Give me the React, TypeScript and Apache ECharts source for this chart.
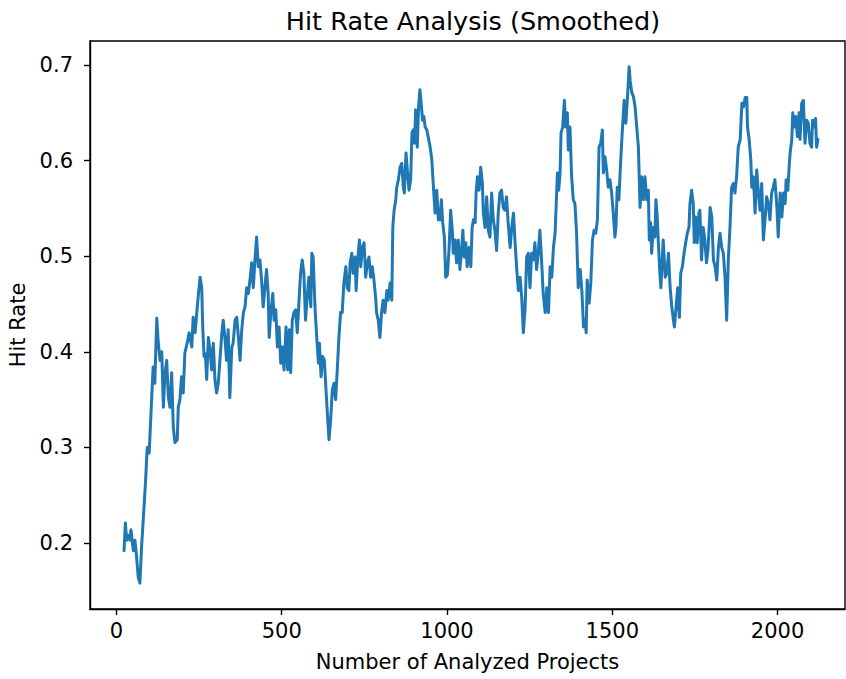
import React, { useEffect, useRef } from "react";
import * as echarts from "echarts";

const chartTitle = "Hit Rate Analysis (Smoothed)";
const xAxisTitle = "Number of Analyzed Projects";
const yAxisTitle = "Hit Rate";
const xTicks = [0, 500, 1000, 1500, 2000];
const yTicks = [0.2, 0.3, 0.4, 0.5, 0.6, 0.7];

// [number of analyzed projects, smoothed hit rate]
const smoothedHitRate: [number, number][] = [
  [23,.192],[27,.221],[31,.203],[36,.208],[41,.203],[44,.214],[51,.192],[56,.203],[61,.185],[66,.164],[71,.158],[76,.196],[81,.224],[88,.264],[93,.300],[99,.294],[106,.347],[111,.384],[116,.367],[122,.435],[126,.412],[132,.391],[137,.400],[142,.342],[147,.378],[152,.391],[157,.353],[162,.342],[167,.378],[172,.321],[177,.305],[184,.308],[187,.342],[192,.350],[197,.374],[202,.357],[207,.399],[214,.409],[220,.420],[228,.405],[232,.436],[238,.420],[243,.441],[248,.460],[253,.478],[258,.467],[261,.426],[265,.395],[269,.398],[273,.371],[278,.415],[283,.402],[288,.381],[293,.409],[298,.371],[303,.357],[308,.367],[313,.391],[319,.420],[323,.433],[328,.415],[333,.391],[338,.423],[343,.352],[349,.405],[353,.409],[359,.433],[364,.436],[369,.415],[374,.391],[379,.423],[384,.441],[389,.447],[394,.467],[399,.461],[404,.475],[409,.493],[414,.467],[419,.496],[424,.520],[429,.489],[434,.496],[439,.475],[444,.447],[449,.467],[454,.486],[459,.461],[462,.415],[467,.441],[473,.461],[477,.433],[482,.444],[487,.405],[492,.426],[497,.388],[502,.405],[507,.381],[513,.426],[518,.381],[523,.423],[527,.378],[532,.433],[537,.441],[542,.444],[547,.420],[552,.451],[557,.482],[562,.496],[567,.482],[572,.433],[577,.457],[582,.478],[588,.447],[591,.503],[595,.499],[601,.444],[606,.415],[611,.388],[614,.409],[619,.374],[624,.395],[629,.391],[634,.360],[638,.336],[643,.308],[648,.329],[653,.360],[658,.367],[663,.350],[668,.381],[673,.415],[678,.441],[683,.441],[688,.472],[694,.489],[698,.467],[703,.464],[707,.493],[712,.503],[716,.482],[722,.499],[725,.464],[730,.496],[735,.517],[739,.489],[744,.509],[749,.514],[754,.478],[759,.493],[764,.499],[769,.478],[774,.489],[779,.475],[784,.457],[787,.441],[792,.433],[797,.415],[802,.441],[807,.454],[812,.441],[818,.464],[822,.454],[828,.472],[833,.454],[836,.530],[840,.548],[845,.559],[848,.572],[853,.580],[858,.593],[863,.597],[868,.572],[871,.566],[876,.608],[880,.590],[885,.569],[890,.580],[894,.629],[898,.632],[902,.618],[905,.653],[910,.614],[914,.656],[918,.674],[922,.660],[926,.642],[930,.646],[934,.635],[939,.632],[943,.625],[949,.614],[954,.601],[959,.572],[964,.545],[969,.569],[974,.538],[979,.538],[983,.559],[987,.535],[992,.520],[996,.478],[1001,.480],[1006,.506],[1011,.548],[1016,.527],[1019,.503],[1024,.517],[1029,.493],[1034,.517],[1039,.486],[1044,.506],[1048,.527],[1052,.499],[1057,.514],[1061,.489],[1067,.509],[1072,.489],[1076,.530],[1080,.538],[1085,.535],[1088,.566],[1092,.583],[1097,.569],[1102,.593],[1107,.576],[1110,.545],[1115,.530],[1120,.562],[1125,.527],[1130,.520],[1135,.566],[1140,.538],[1145,.527],[1150,.506],[1155,.545],[1160,.566],[1165,.569],[1170,.551],[1175,.548],[1180,.562],[1185,.535],[1191,.509],[1196,.530],[1201,.545],[1206,.514],[1211,.486],[1216,.464],[1221,.478],[1226,.457],[1231,.420],[1236,.444],[1241,.499],[1246,.503],[1251,.467],[1256,.503],[1261,.496],[1266,.514],[1271,.486],[1276,.503],[1281,.527],[1286,.496],[1291,.461],[1297,.441],[1302,.467],[1307,.441],[1312,.489],[1317,.478],[1322,.509],[1327,.524],[1330,.551],[1334,.587],[1338,.569],[1342,.587],[1345,.629],[1350,.635],[1355,.663],[1359,.635],[1364,.650],[1367,.611],[1372,.635],[1377,.583],[1382,.559],[1387,.555],[1392,.524],[1397,.467],[1403,.486],[1408,.464],[1413,.426],[1418,.433],[1421,.420],[1424,.475],[1430,.451],[1435,.472],[1440,.517],[1445,.527],[1450,.524],[1455,.538],[1460,.614],[1465,.618],[1470,.632],[1473,.587],[1478,.604],[1483,.590],[1488,.572],[1493,.580],[1498,.566],[1503,.545],[1508,.520],[1511,.530],[1515,.572],[1520,.559],[1525,.597],[1530,.629],[1536,.663],[1541,.639],[1546,.666],[1551,.698],[1554,.684],[1559,.671],[1564,.667],[1569,.656],[1574,.635],[1579,.614],[1584,.551],[1589,.583],[1594,.559],[1599,.583],[1604,.559],[1609,.569],[1612,.517],[1616,.535],[1619,.503],[1624,.530],[1629,.520],[1632,.559],[1636,.541],[1639,.517],[1644,.482],[1647,.467],[1651,.496],[1654,.517],[1660,.478],[1665,.482],[1670,.503],[1675,.467],[1680,.447],[1685,.433],[1688,.426],[1693,.447],[1698,.467],[1703,.436],[1707,.482],[1712,.489],[1717,.503],[1722,.514],[1727,.524],[1732,.530],[1735,.555],[1740,.569],[1745,.555],[1748,.514],[1752,.541],[1757,.514],[1762,.545],[1765,.548],[1770,.496],[1775,.530],[1780,.517],[1785,.493],[1790,.509],[1796,.551],[1801,.541],[1806,.496],[1811,.489],[1816,.475],[1821,.509],[1826,.524],[1831,.509],[1836,.503],[1841,.478],[1846,.433],[1851,.496],[1856,.530],[1861,.572],[1866,.576],[1871,.566],[1876,.583],[1881,.614],[1887,.622],[1892,.660],[1897,.656],[1902,.666],[1907,.666],[1909,.635],[1914,.622],[1919,.601],[1922,.572],[1927,.583],[1932,.545],[1937,.590],[1942,.566],[1947,.548],[1952,.576],[1957,.517],[1962,.538],[1967,.562],[1972,.555],[1977,.538],[1982,.566],[1987,.572],[1992,.580],[1998,.551],[2002,.520],[2008,.566],[2013,.541],[2018,.566],[2023,.555],[2026,.580],[2031,.569],[2035,.593],[2038,.608],[2043,.622],[2046,.650],[2050,.635],[2055,.646],[2060,.625],[2065,.650],[2068,.622],[2073,.660],[2078,.663],[2083,.618],[2088,.642],[2093,.639],[2098,.618],[2103,.614],[2106,.642],[2111,.635],[2115,.644],[2118,.614],[2122,.622]
];

const FONT = "DejaVu Sans";

export default function App() {
  const ref = useRef<HTMLDivElement>(null);
  useEffect(() => {
    document.body.style.margin = "0";
    if (!ref.current) return;
    const chart = echarts.init(ref.current, undefined, { renderer: "svg" });
    const axisLine = { show: true, onZero: false, lineStyle: { color: "#000", width: 1.4 } };
    chart.setOption({
      animation: false,
      backgroundColor: "#fff",
      title: {
        text: chartTitle,
        left: 468,
        top: 3,
        textAlign: "center",
        textStyle: { fontFamily: FONT, fontSize: 25.5, fontWeight: "normal", color: "#000" },
      },
      grid: {
        left: 90, right: 1, top: 41, bottom: 70,
        show: true, borderColor: "#000", borderWidth: 1.4,
        containLabel: false, outerBoundsMode: "none",
      },
      xAxis: {
        type: "value",
        min: -80,
        max: 2204,
        name: xAxisTitle,
        nameLocation: "middle",
        nameGap: 42,
        nameTextStyle: { fontFamily: FONT, fontSize: 21, color: "#000" },
        axisLine,
        splitLine: { show: false },
        axisTick: { show: true, length: 6, lineStyle: { color: "#000", width: 1.4 }, customValues: xTicks },
        axisLabel: { fontFamily: FONT, fontSize: 21, color: "#000", margin: 11, customValues: xTicks, formatter: (v: number) => String(v) },
      },
      yAxis: {
        type: "value",
        min: 0.131,
        max: 0.725,
        name: yAxisTitle,
        nameLocation: "middle",
        nameGap: 57,
        nameTextStyle: { fontFamily: FONT, fontSize: 21, color: "#000" },
        axisLine,
        splitLine: { show: false },
        axisTick: { show: true, length: 6, lineStyle: { color: "#000", width: 1.4 }, customValues: yTicks },
        axisLabel: { fontFamily: FONT, fontSize: 21, color: "#000", margin: 17, customValues: yTicks, formatter: (v: number) => v.toFixed(1) },
      },
      series: [
        {
          type: "line",
          data: smoothedHitRate,
          showSymbol: false,
          symbol: "none",
          lineStyle: { color: "#1f77b4", width: 3, join: "round", cap: "round" },
          clip: true,
        },
      ],
    });
    return () => chart.dispose();
  }, []);
  return <div ref={ref} style={{ width: 846, height: 679 }} />;
}
